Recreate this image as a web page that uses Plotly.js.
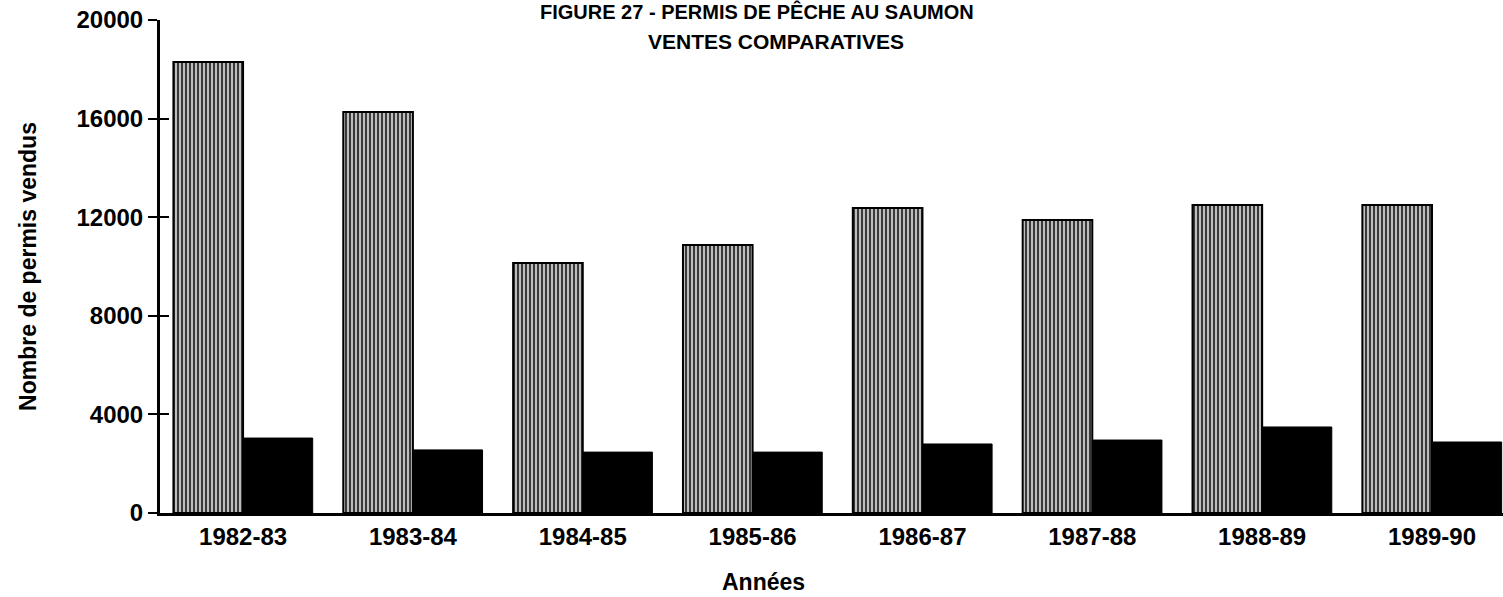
<!DOCTYPE html>
<html>
<head>
<meta charset="utf-8">
<script src="https://cdn.plot.ly/plotly-3.0.1.min.js"></script>
<style>
  html, body { margin: 0; padding: 0; background: #ffffff; }
  #chart { width: 1503px; height: 597px; }
</style>
</head>
<body>
<div id="chart"></div>
<script>
// ---- Data ----
const years = ['1982-83', '1983-84', '1984-85', '1985-86', '1986-87', '1987-88', '1988-89', '1989-90'];
const seriesA = [18300, 16270, 10140, 10870, 12370, 11890, 12490, 12490]; // grey hatched bars
const seriesB = [3040, 2560, 2470, 2470, 2800, 2960, 3490, 2880];         // black bars
const yTicks = [0, 4000, 8000, 12000, 16000, 20000];
const yTickText = ['0', '4000', '8000', '12000', '16000', '20000'];

const titleLine1 = 'FIGURE 27 - PERMIS DE PÊCHE AU SAUMON';
const titleLine2 = 'VENTES COMPARATIVES';
const xTitle = 'Années';
const yTitle = 'Nombre de permis vendus';

const FONT = 'Liberation Sans, Arial, Helvetica, sans-serif';

const traces = [
  {
    type: 'bar',
    name: 'Série A',
    x: years,
    y: seriesA,
    marker: {
      color: '#a8a8a8',
      line: { color: '#000000', width: 2 },
      pattern: { shape: '|', fgcolor: '#2a2a2a', bgcolor: '#bdbdbd', size: 4, solidity: 0.45, fillmode: 'replace' }
    },
    hoverinfo: 'x+y'
  },
  {
    type: 'bar',
    name: 'Série B',
    x: years,
    y: seriesB,
    marker: { color: '#000000', line: { color: '#000000', width: 1 } },
    hoverinfo: 'x+y'
  },
  // invisible trace only to activate the overlay axis carrying the inner half of the ticks
  {
    type: 'scatter',
    x: [years[0]],
    y: [0],
    yaxis: 'y2',
    mode: 'markers',
    marker: { opacity: 0 },
    hoverinfo: 'skip',
    showlegend: false
  }
];

const layout = {
  width: 1503,
  height: 597,
  margin: { l: 160, r: 0, t: 20, b: 84, pad: 0 },
  paper_bgcolor: '#ffffff',
  plot_bgcolor: '#ffffff',
  showlegend: false,
  barmode: 'group',
  bargap: 0.18,
  bargroupgap: 0,
  font: { family: FONT, color: '#000000', size: 24 },
  xaxis: {
    type: 'category',
    range: [-0.489, 7.418],
    showline: true,
    linecolor: '#000000',
    linewidth: 3,
    showgrid: false,
    zeroline: false,
    ticks: '',
    tickfont: { family: FONT, size: 24, color: '#000000', weight: 'bold' },
    automargin: false
  },
  yaxis: {
    range: [0, 20000],
    tickvals: yTicks,
    ticktext: yTickText,
    showline: true,
    linecolor: '#000000',
    linewidth: 3,
    showgrid: false,
    zeroline: false,
    ticks: 'outside',
    ticklen: 9,
    tickwidth: 2,
    tickcolor: '#000000',
    tickfont: { family: FONT, size: 24, color: '#000000', weight: 'bold' },
    title: { text: yTitle, font: { family: FONT, size: 23, color: '#000000', weight: 'bold' }, standoff: 34 },
    automargin: false
  },
  yaxis2: {
    overlaying: 'y',
    side: 'left',
    range: [0, 20000],
    tickvals: yTicks,
    showticklabels: false,
    ticks: 'inside',
    ticklen: 9,
    tickwidth: 2,
    tickcolor: '#000000',
    showline: false,
    showgrid: false,
    zeroline: false
  },
  annotations: [
    {
      text: titleLine1, xref: 'paper', yref: 'paper', x: 0.4445, y: 1.018,
      xanchor: 'center', yanchor: 'middle', showarrow: false,
      font: { family: FONT, size: 20, color: '#000000', weight: 'bold' }
    },
    {
      text: titleLine2, xref: 'paper', yref: 'paper', x: 0.4587, y: 0.957,
      xanchor: 'center', yanchor: 'middle', showarrow: false,
      font: { family: FONT, size: 21, color: '#000000', weight: 'bold' }
    },
    {
      text: xTitle, xref: 'paper', yref: 'paper', x: 0.4497, y: -0.140,
      xanchor: 'center', yanchor: 'middle', showarrow: false,
      font: { family: FONT, size: 23, color: '#000000', weight: 'bold' }
    }
  ]
};

Plotly.newPlot('chart', traces, layout, { displayModeBar: false, staticPlot: true });
</script>
</body>
</html>
